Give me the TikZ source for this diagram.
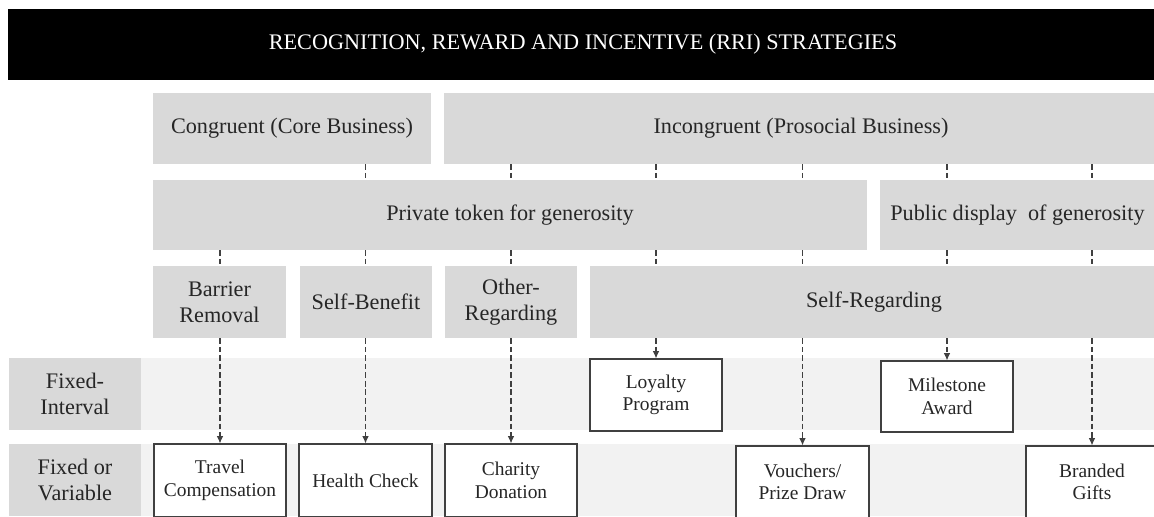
\documentclass[tikz,border=0pt]{standalone}
\usepackage{fontspec}
\setmainfont{Liberation Serif}
\usetikzlibrary{arrows.meta}

\definecolor{cellgrey}{HTML}{D9D9D9}
\definecolor{bandgrey}{HTML}{F2F2F2}
\definecolor{inkgrey}{HTML}{404040}

\begin{document}
\begin{tikzpicture}[x=0.54pt, y=-0.54pt, font=\fontsize{12}{14}\selectfont]
\tikzset{size/.style 2 args={minimum width=#1*0.54pt, minimum height=#2*0.54pt}}
\tikzstyle{catbox}=[rectangle, fill=cellgrey, inner sep=0pt, align=center, text=black!85]
\tikzstyle{bandbox}=[rectangle, fill=bandgrey, inner sep=0pt]
\tikzstyle{itembox}=[rectangle, draw=inkgrey, line width=0.6pt, fill=white, inner sep=0pt, align=center, text=black!85, font=\fontsize{10.5}{12.2}\selectfont]
\tikzstyle{dashlink}=[draw=inkgrey, line width=0.6pt, dash pattern=on 3pt off 1.6pt]
\tikzstyle{headlink}=[dashlink, -{Latex[length=4pt, width=3.6pt]}]
\useasboundingbox (0,0) rectangle (1154,516);
\clip (0,0) rectangle (1154,516);

% header bar
\node[fill=black, text=white, inner sep=0pt, size={1150}{71}] (title) at (583,44.5) {RECOGNITION, REWARD AND INCENTIVE (RRI) STRATEGIES};

% schedule bands
\node[catbox, size={132}{72}] (fixint) at (75,394) {Fixed-\\Interval};
\node[bandbox, size={1017}{72}] (fixintband) at (649.5,394) {};
\node[catbox, size={132}{72}] (fixvar) at (75,480) {Fixed or\\Variable};
\node[bandbox, size={1017}{72}] (fixvarband) at (649.5,480) {};

% business fit
\node[catbox, size={278}{71}] (cong) at (292,128.5) {Congruent (Core Business)};
\node[catbox, size={714}{71}] (incong) at (801,128.5) {Incongruent (Prosocial Business)};

% token type
\node[catbox, size={714}{70}] (priv) at (510,215) {Private token for generosity};
\node[catbox, size={275}{70}] (public) at (1017.5,215) {Public display~ of generosity};

% motive
\node[catbox, size={133}{72}] (barrier) at (219.5,302) {Barrier\\Removal};
\node[catbox, size={132}{72}] (selfben) at (366,302) {Self-Benefit};
\node[catbox, size={132}{72}] (other) at (511,302) {Other-\\Regarding};
\node[catbox, size={568}{72}] (selfreg) at (874,302) {Self-Regarding};

% strategies
\node[itembox, size={132}{72}] (loyalty) at (656,395) {Loyalty\\Program};
\node[itembox, size={132}{71}] (milestone) at (947,396.5) {Milestone\\Award};
\node[itembox, size={132}{73}] (travel) at (220,480.5) {Travel\\Compensation};
\node[itembox, size={133}{73}] (health) at (365.5,480.5) {Health Check};
\node[itembox, size={132}{73}] (charity) at (511,480.5) {Charity\\Donation};
\node[itembox, size={133}{72}] (vouchers) at (802.5,482) {Vouchers/\\Prize Draw};
\node[itembox, size={132}{72}] (branded) at (1092,482) {Branded\\Gifts};

% dashed links down each column
\draw[dashlink] (priv.south -| travel) -- (barrier.north -| travel);
\draw[headlink] (barrier.south -| travel) -- (travel.north);
\foreach \u/\m/\l/\leaf in {cong/priv/selfben/health, incong/priv/other/charity, incong/priv/selfreg/loyalty, incong/priv/selfreg/vouchers, incong/public/selfreg/milestone, incong/public/selfreg/branded} {
  \draw[dashlink] (\u.south -| \leaf) -- (\m.north -| \leaf) (\m.south -| \leaf) -- (\l.north -| \leaf);
  \draw[headlink] (\l.south -| \leaf) -- (\leaf.north);
}
\end{tikzpicture}
\end{document}
